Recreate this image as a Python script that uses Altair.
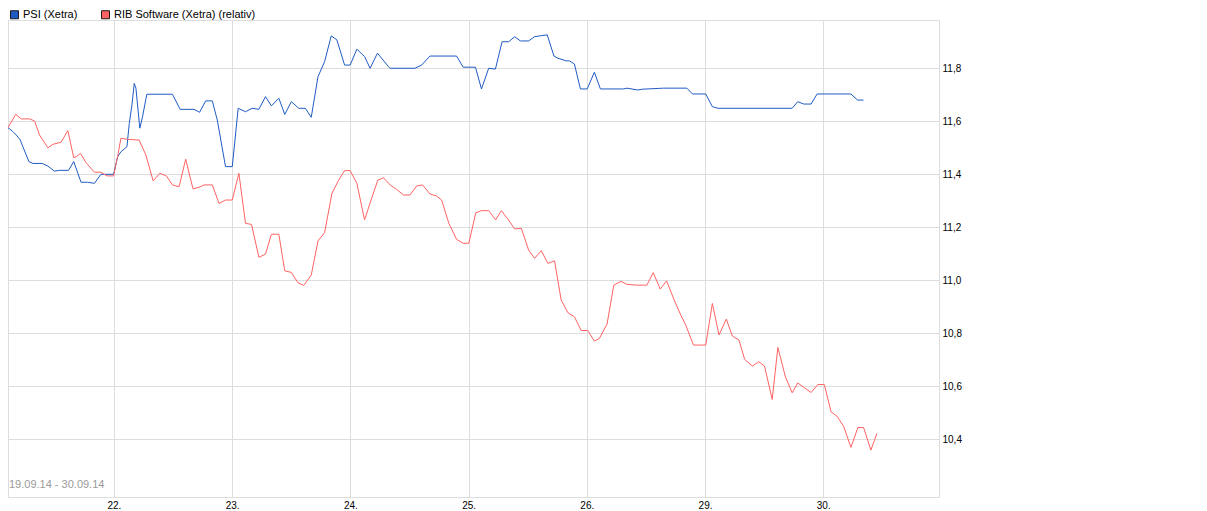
import altair as alt
import pandas as pd

# ---- data (x in trading-day units: 1 = 22., 2 = 23., ... 7 = 30.) ----
series_names = ["PSI (Xetra)", "RIB Software (Xetra) (relativ)"]
series_colors = ["#1f5bc4", "#ff6262"]

psi_x = [0.104, 0.146, 0.174, 0.207, 0.230, 0.281, 0.315, 0.393, 0.441, 0.497,
         0.540, 0.616, 0.660, 0.722, 0.778, 0.835, 0.890, 0.997, 1.031, 1.059,
         1.110, 1.130, 1.152, 1.172, 1.186, 1.219, 1.242, 1.278, 1.495, 1.560,
         1.678, 1.725, 1.776, 1.832, 1.874, 1.944, 2.001, 2.051, 2.113, 2.169,
         2.226, 2.282, 2.332, 2.395, 2.445, 2.501, 2.563, 2.619, 2.669, 2.726,
         2.782, 2.838, 2.886, 2.951, 2.998, 3.055, 3.120, 3.167, 3.229, 3.322,
         3.336, 3.546, 3.603, 3.673, 3.898, 3.954, 4.058, 4.109, 4.170, 4.227,
         4.283, 4.339, 4.390, 4.438, 4.508, 4.558, 4.615, 4.665, 4.722, 4.755,
         4.825, 4.853, 4.895, 4.946, 5.003, 5.064, 5.115, 5.312, 5.340, 5.430,
         5.472, 5.649, 5.846, 5.894, 6.006, 6.062, 6.110, 6.737, 6.784, 6.835,
         6.897, 6.948, 7.234, 7.290, 7.341]
psi_y = [11.576, 11.561, 11.548, 11.530, 11.504, 11.448, 11.441, 11.441, 11.431, 11.412,
         11.415, 11.415, 11.448, 11.370, 11.370, 11.366, 11.400, 11.400, 11.466, 11.485,
         11.504, 11.592, 11.660, 11.743, 11.725, 11.574, 11.617, 11.702, 11.702, 11.645,
         11.645, 11.634, 11.677, 11.677, 11.605, 11.429, 11.429, 11.649, 11.636, 11.649,
         11.645, 11.693, 11.658, 11.687, 11.626, 11.674, 11.649, 11.649, 11.615, 11.768,
         11.825, 11.922, 11.907, 11.812, 11.812, 11.872, 11.844, 11.800, 11.857, 11.806,
         11.800, 11.800, 11.812, 11.846, 11.846, 11.804, 11.804, 11.722, 11.800, 11.797,
         11.900, 11.900, 11.919, 11.903, 11.903, 11.919, 11.923, 11.926, 11.846, 11.838,
         11.828, 11.828, 11.816, 11.722, 11.722, 11.785, 11.722, 11.722, 11.725, 11.718,
         11.721, 11.725, 11.725, 11.703, 11.703, 11.655, 11.649, 11.649, 11.674, 11.665,
         11.665, 11.703, 11.703, 11.680, 11.680]

rib_x = [0.104, 0.169, 0.216, 0.287, 0.329, 0.371, 0.441, 0.483, 0.553, 0.610,
         0.660, 0.680, 0.717, 0.764, 0.835, 0.890, 0.941, 0.997, 1.031, 1.059,
         1.116, 1.214, 1.270, 1.332, 1.388, 1.444, 1.495, 1.551, 1.607, 1.669,
         1.720, 1.762, 1.832, 1.889, 1.944, 2.001, 2.057, 2.113, 2.164, 2.226,
         2.282, 2.332, 2.395, 2.445, 2.501, 2.557, 2.605, 2.669, 2.726, 2.782,
         2.844, 2.901, 2.951, 2.998, 3.055, 3.120, 3.175, 3.232, 3.280, 3.336,
         3.392, 3.449, 3.504, 3.561, 3.611, 3.673, 3.729, 3.772, 3.833, 3.898,
         3.954, 4.002, 4.061, 4.109, 4.170, 4.229, 4.277, 4.334, 4.390, 4.446,
         4.508, 4.558, 4.615, 4.671, 4.727, 4.783, 4.840, 4.895, 4.952, 5.008,
         5.064, 5.106, 5.171, 5.228, 5.289, 5.340, 5.424, 5.508, 5.562, 5.621,
         5.675, 5.739, 5.795, 5.837, 5.902, 6.006, 6.062, 6.118, 6.180, 6.231,
         6.287, 6.335, 6.400, 6.455, 6.503, 6.568, 6.616, 6.680, 6.737, 6.784,
         6.841, 6.897, 6.953, 7.009, 7.066, 7.116, 7.172, 7.234, 7.293, 7.341,
         7.403, 7.454]
rib_y = [11.576, 11.626, 11.609, 11.609, 11.601, 11.548, 11.500, 11.513, 11.521, 11.565,
         11.463, 11.466, 11.479, 11.444, 11.408, 11.408, 11.394, 11.394, 11.466, 11.536,
         11.532, 11.529, 11.473, 11.375, 11.404, 11.394, 11.360, 11.353, 11.457, 11.345,
         11.351, 11.360, 11.360, 11.290, 11.303, 11.303, 11.404, 11.215, 11.211, 11.087,
         11.099, 11.174, 11.174, 11.036, 11.030, 10.991, 10.981, 11.020, 11.149, 11.180,
         11.328, 11.378, 11.414, 11.414, 11.366, 11.228, 11.303, 11.378, 11.387, 11.360,
         11.343, 11.322, 11.322, 11.356, 11.360, 11.326, 11.318, 11.303, 11.215, 11.155,
         11.140, 11.140, 11.255, 11.263, 11.263, 11.228, 11.263, 11.230, 11.194, 11.196,
         11.114, 11.083, 11.112, 11.064, 11.074, 10.926, 10.878, 10.863, 10.811, 10.811,
         10.771, 10.781, 10.835, 10.982, 10.996, 10.985, 10.982, 10.982, 11.029, 10.967,
         10.998, 10.926, 10.869, 10.831, 10.756, 10.756, 10.913, 10.794, 10.854, 10.790,
         10.775, 10.702, 10.677, 10.693, 10.677, 10.551, 10.747, 10.636, 10.576, 10.613,
         10.595, 10.577, 10.607, 10.607, 10.504, 10.488, 10.450, 10.370, 10.445, 10.445,
         10.360, 10.423]

day_ticks = [1, 2, 3, 4, 5, 6, 7]
day_labels = ["22.", "23.", "24.", "25.", "26.", "29.", "30."]
y_ticks = [10.4, 10.6, 10.8, 11.0, 11.2, 11.4, 11.6, 11.8]
x_domain = [0.104, 7.979]
y_domain = [10.183, 11.982]
range_label = "19.09.14 - 30.09.14"

df = pd.concat([
    pd.DataFrame({"series": series_names[0], "x": psi_x, "y": psi_y}),
    pd.DataFrame({"series": series_names[1], "x": rib_x, "y": rib_y}),
], ignore_index=True)

FONT = "Liberation Sans"
GRID = "#dadada"

label_expr = "[" + ",".join("'%s'" % s for s in day_labels) + "][datum.value - 1]"

xenc = alt.X("x:Q",
             scale=alt.Scale(domain=x_domain, nice=False, zero=False),
             axis=alt.Axis(values=day_ticks, labelExpr=label_expr, grid=True,
                           ticks=False, tickSize=0, domain=False, labelPadding=3,
                           title=None, labelFlush=False, labelOverlap=False))
yenc = alt.Y("y:Q",
             scale=alt.Scale(domain=y_domain, nice=False, zero=False),
             axis=alt.Axis(orient="right", values=y_ticks,
                           labelExpr="replace(format(datum.value, '.1f'), '.', ',')",
                           grid=True, ticks=False, tickSize=0, domain=False,
                           labelPadding=3, title=None, labelFlush=False,
                           labelOverlap=False, labelAlign="left"))

fill_scale = alt.Scale(domain=series_names, range=series_colors)

line_layers = [
    alt.Chart(df).transform_filter(alt.datum.series == name)
    .mark_line(strokeWidth=1, clip=True, color=col)
    .encode(x=xenc, y=yenc)
    for name, col in zip(series_names, series_colors)
]

legend_layer = alt.Chart(df).transform_filter("false").mark_square(
    filled=True, stroke="#1a1a1a", strokeWidth=1, size=64, opacity=1
).encode(
    x=xenc, y=yenc,
    fill=alt.Fill("series:N", scale=fill_scale,
                  legend=alt.Legend(orient="none", legendX=1, legendY=-11,
                                    direction="horizontal", title=None,
                                    labelFont=FONT, labelFontSize=11,
                                    labelColor="#000000", symbolType="square",
                                    symbolSize=64, symbolStrokeColor="#1a1a1a",
                                    symbolStrokeWidth=1, symbolOpacity=1,
                                    labelOffset=3, columnPadding=21, padding=0)),
)

range_text = alt.Chart(pd.DataFrame({"t": [range_label]})).mark_text(
    align="left", baseline="alphabetic", color="#9a9a9a", fontSize=11, font=FONT
).encode(x=alt.value(1), y=alt.value(468), text="t:N")

chart = alt.layer(*line_layers, legend_layer, range_text).properties(
    width=931, height=477,
    autosize=alt.AutoSizeParams(type="none"),
    padding={"left": 0, "top": 12, "right": 40, "bottom": 14},
).configure_view(
    stroke=GRID, strokeWidth=1
).configure_axis(
    labelFont=FONT, labelFontSize=11, labelColor="#000000",
    gridColor=GRID, gridWidth=1
).configure(background="white")

chart.save("out.html", embed_options={"renderer": "svg", "actions": False})
